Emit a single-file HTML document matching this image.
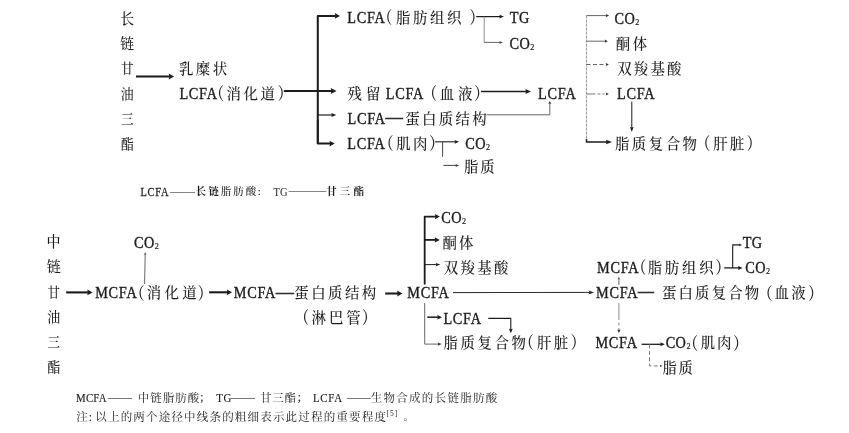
<!DOCTYPE html>
<html lang="zh-CN">
<head>
<meta charset="utf-8">
<title>LCFA / MCFA</title>
<style>
html,body{margin:0;padding:0;background:#fff;}
body{width:849px;height:433px;overflow:hidden;}
svg{display:block;will-change:transform;}
text{font-family:"Liberation Serif","Noto Serif CJK SC",serif;fill:#1c1c1c;white-space:pre;}
</style>
</head>
<body>
<svg width="849" height="433" viewBox="0 0 849 433">
<defs><filter id="soft" x="0" y="0" width="849" height="433" filterUnits="userSpaceOnUse"><feGaussianBlur stdDeviation="0.3"/></filter></defs>
<rect x="0" y="0" width="849" height="433" fill="#ffffff"/>
<g filter="url(#soft)">
<g id="lines" fill="none" stroke="#1c1c1c" stroke-linecap="butt" stroke-linejoin="round">
<path d="M136.0 76.5 L169.8 76.5" stroke-width="2.1"/>
<path d="M174.1 76.5 L168.7 79.4 L169.3 76.5 L168.7 73.6 Z" fill="#1c1c1c" stroke="none"/>
<path d="M283.8 91.0 L331.9 91.0" stroke-width="2.1"/>
<path d="M336.5 91.0 L330.7 94.1 L331.4 91.0 L330.7 87.9 Z" fill="#1c1c1c" stroke="none"/>
<path d="M317.8 143.6 L317.8 15.9 L335.8 15.9" stroke-width="2"/>
<path d="M340.0 15.9 L334.8 18.7 L335.4 15.9 L334.8 13.1 Z" fill="#1c1c1c" stroke="none"/>
<path d="M317.8 115.0 L332.3 115.0" stroke-width="1.2"/>
<path d="M336.3 115.0 L331.3 117.1 L331.9 115.0 L331.3 112.9 Z" fill="#1c1c1c" stroke="none"/>
<path d="M317.8 120.0 L317.8 143.6 L330.5 143.6" stroke-width="2"/>
<path d="M334.7 143.6 L329.5 146.4 L330.1 143.6 L329.5 140.8 Z" fill="#1c1c1c" stroke="none"/>
<path d="M476.2 16.6 L500.3 16.6" stroke-width="1.2"/>
<path d="M503.9 16.6 L499.4 18.5 L499.9 16.6 L499.4 14.7 Z" fill="#1c1c1c" stroke="none"/>
<path d="M484.2 16.6 L484.2 42.4" stroke-width="0.9" stroke="#808080"/>
<path d="M484.2 42.4 L500.1 42.4" stroke-width="0.9" stroke="#555"/>
<path d="M502.9 42.4 L499.4 43.9 L499.8 42.4 L499.4 40.9 Z" fill="#555" stroke="none"/>
<path d="M481.0 91.5 L526.5 91.5" stroke-width="1.5"/>
<path d="M531.0 91.5 L525.4 94.0 L526.1 91.5 L525.4 89.0 Z" fill="#1c1c1c" stroke="none"/>
<path d="M486.5 114.8 L549.8 114.8 L549.8 103.3" stroke-width="1" stroke="#666666"/>
<path d="M549.8 100.9 L551.3 103.9 L549.8 103.5 L548.3 103.9 Z" fill="#333" stroke="none"/>
<path d="M586.5 15.5 L586.5 141.0" stroke-width="1" stroke="#999" stroke-dasharray="3 1"/>
<path d="M586.5 15.6 L606.5 15.6" stroke-width="1" stroke="#666666"/>
<path d="M609.1 15.6 L605.9 17.2 L606.3 15.6 L605.9 14.0 Z" fill="#333" stroke="none"/>
<path d="M586.5 41.2 L605.3 41.2" stroke-width="1" stroke="#666666"/>
<path d="M607.9 41.2 L604.7 42.8 L605.1 41.2 L604.7 39.6 Z" fill="#333" stroke="none"/>
<path d="M586.5 64.5 L606.3 64.5" stroke-width="1" stroke="#666666" stroke-dasharray="4 2.5"/>
<path d="M608.9 64.5 L605.7 66.1 L606.1 64.5 L605.7 62.9 Z" fill="#333" stroke="none"/>
<path d="M586.5 94.0 L606.3 94.0" stroke-width="1" stroke="#777" stroke-dasharray="9 2 3 2 2 30"/>
<path d="M608.9 94.0 L605.7 95.6 L606.1 94.0 L605.7 92.4 Z" fill="#333" stroke="none"/>
<path d="M586.5 139.0 L586.5 142.0 L607.2 142.0" stroke-width="1.5"/>
<path d="M612.0 142.0 L606.0 144.2 L606.7 142.0 L606.0 139.8 Z" fill="#1c1c1c" stroke="none"/>
<path d="M631.8 101.6 L631.8 127.9" stroke-width="1"/>
<path d="M631.8 131.9 L630.0 126.9 L631.8 127.5 L633.6 126.9 Z" fill="#1c1c1c" stroke="none"/>
<path d="M435.0 141.8 L455.5 141.8" stroke-width="1.1"/>
<path d="M459.1 141.8 L454.6 143.7 L455.1 141.8 L454.6 139.9 Z" fill="#1c1c1c" stroke="none"/>
<path d="M442.6 141.8 L442.6 156.8" stroke-width="1" stroke="#444"/>
<path d="M443.4 165.4 L456.3 165.4" stroke-width="1" stroke="#444"/>
<path d="M459.1 165.4 L455.6 166.9 L456.0 165.4 L455.6 163.9 Z" fill="#444" stroke="none"/>
<path d="M66.1 292.4 L88.4 292.4" stroke-width="2.1"/>
<path d="M92.7 292.4 L87.3 295.3 L87.9 292.4 L87.3 289.5 Z" fill="#1c1c1c" stroke="none"/>
<path d="M209.1 292.3 L227.8 292.3" stroke-width="2.1"/>
<path d="M232.1 292.3 L226.7 295.2 L227.3 292.3 L226.7 289.4 Z" fill="#1c1c1c" stroke="none"/>
<path d="M385.2 293.5 L398.2 293.5" stroke-width="2.1"/>
<path d="M402.5 293.5 L397.1 296.4 L397.7 293.5 L397.1 290.6 Z" fill="#1c1c1c" stroke="none"/>
<path d="M144.6 284.0 L145.2 254.5" stroke-width="1" stroke="#666666"/>
<path d="M145.2 252.1 L146.6 255.1 L145.2 254.7 L143.8 255.1 Z" fill="#666666" stroke="none"/>
<path d="M424.7 284.6 L424.7 216.6 L435.9 216.6" stroke-width="1.8"/>
<path d="M439.9 216.6 L434.9 219.2 L435.5 216.6 L434.9 214.0 Z" fill="#1c1c1c" stroke="none"/>
<path d="M424.7 239.9 L435.7 239.9" stroke-width="1.8"/>
<path d="M439.7 239.9 L434.7 242.5 L435.3 239.9 L434.7 237.3 Z" fill="#1c1c1c" stroke="none"/>
<path d="M424.7 264.6 L436.7 264.6" stroke-width="1"/>
<path d="M440.3 264.6 L435.8 266.3 L436.3 264.6 L435.8 262.9 Z" fill="#1c1c1c" stroke="none"/>
<path d="M453.0 292.6 L589.7 292.4" stroke-width="1" stroke="#2a2a2a"/>
<path d="M594.1 292.4 L588.6 294.4 L589.3 292.4 L588.6 290.4 Z" fill="#2a2a2a" stroke="none"/>
<path d="M424.7 303.0 L424.7 344.1 L438.5 344.1" stroke-width="1" stroke="#666666"/>
<path d="M441.7 344.1 L437.7 345.7 L438.2 344.1 L437.7 342.5 Z" fill="#333" stroke="none"/>
<path d="M427.3 317.2 L438.3 317.2" stroke-width="1.5"/>
<path d="M442.1 317.2 L437.3 319.4 L437.9 317.2 L437.3 315.0 Z" fill="#1c1c1c" stroke="none"/>
<path d="M488.3 318.4 L510.8 318.4 L510.8 329.6" stroke-width="1.1"/>
<path d="M510.8 333.3 L508.9 328.7 L510.8 329.3 L512.7 328.7 Z" fill="#1c1c1c" stroke="none"/>
<path d="M618.9 284.8 L618.9 278.9" stroke-width="1" stroke="#666666"/>
<path d="M618.9 276.5 L620.3 279.5 L618.9 279.1 L617.5 279.5 Z" fill="#666666" stroke="none"/>
<path d="M618.9 303.0 L618.9 330.2" stroke-width="1" stroke="#8a8a8a" stroke-dasharray="17 2.5 3 2.5 2 30"/>
<path d="M618.9 332.9 L617.2 329.5 L618.9 329.9 L620.6 329.5 Z" fill="#333" stroke="none"/>
<path d="M724.2 267.9 L739.0 267.9" stroke-width="1.3"/>
<path d="M742.6 267.9 L738.1 269.9 L738.6 267.9 L738.1 265.9 Z" fill="#1c1c1c" stroke="none"/>
<path d="M732.7 267.9 L732.7 244.9 L739.6 244.9" stroke-width="1.1"/>
<path d="M742.0 244.9 L739.0 246.3 L739.4 244.9 L739.0 243.5 Z" fill="#1c1c1c" stroke="none"/>
<path d="M641.6 344.3 L661.2 344.3" stroke-width="1.3"/>
<path d="M664.8 344.3 L660.3 346.3 L660.8 344.3 L660.3 342.3 Z" fill="#1c1c1c" stroke="none"/>
<path d="M649.5 344.3 L649.5 365.9 L658.5 365.9" stroke-width="1" stroke="#777" stroke-dasharray="4 2.5"/>
<path d="M660.0 365.9 L661.6 365.9" stroke-width="1.6" stroke="#444"/>
</g>
<g id="labels">
<text transform="translate(120.26 23.98) scale(0.95 1)" font-size="14.6" font-weight="500">长</text>
<text transform="translate(120.36 48.70) scale(0.95 1)" font-size="14.6" font-weight="500">链</text>
<text transform="translate(121.03 72.55) scale(0.95 1)" font-size="13.2" font-weight="500">甘</text>
<text transform="translate(120.84 98.80) scale(0.95 1)" font-size="13.6" font-weight="500">油</text>
<text transform="translate(120.93 123.66) scale(0.95 1)" font-size="13.2" font-weight="500">三</text>
<text transform="translate(120.74 148.98) scale(0.95 1)" font-size="13.8" font-weight="500">酯</text>
<text transform="translate(178.98 74.00) scale(0.95 1)" font-size="15.2" letter-spacing="2.59" font-weight="500">乳糜状</text>
<text transform="translate(179.38 98.67) scale(0.88 1)" font-size="16.2" letter-spacing="0.85" stroke="#1c1c1c" stroke-width="0.38">LCFA</text>
<text transform="translate(209.85 100.21) scale(0.84 1)" font-size="17" font-weight="600">（</text>
<text transform="translate(226.38 99.00) scale(0.95 1)" font-size="15.2" letter-spacing="2.77" font-weight="500">消化道</text>
<text transform="translate(277.73 100.21) scale(0.84 1)" font-size="17" font-weight="600">）</text>
<text transform="translate(347.28 23.37) scale(0.88 1)" font-size="16.2" letter-spacing="0.85" stroke="#1c1c1c" stroke-width="0.38">LCFA</text>
<text transform="translate(378.05 24.01) scale(0.84 1)" font-size="17" font-weight="600">（</text>
<text transform="translate(395.88 22.80) scale(0.95 1)" font-size="15.2" letter-spacing="2.75" font-weight="500">脂肪组织</text>
<text transform="translate(469.53 24.01) scale(0.84 1)" font-size="17" font-weight="600">）</text>
<text transform="translate(509.78 23.37) scale(0.88 1)" font-size="16.2" letter-spacing="0.50" stroke="#1c1c1c" stroke-width="0.38">TG</text>
<text transform="translate(509.55 48.57) scale(0.88 1)" font-size="16.2" letter-spacing="0.50" stroke="#1c1c1c" stroke-width="0.38">CO<tspan font-size="9.2" dx="0.1" dy="1.05" stroke-width="0.2">2</tspan></text>
<text transform="translate(347.53 99.10) scale(0.95 1)" font-size="15.2" letter-spacing="4.38" font-weight="500">残留</text>
<text transform="translate(385.68 98.97) scale(0.88 1)" font-size="16.2" letter-spacing="0.85" stroke="#1c1c1c" stroke-width="0.38">LCFA</text>
<text transform="translate(422.65 100.31) scale(0.84 1)" font-size="17" font-weight="600">（</text>
<text transform="translate(439.68 99.10) scale(0.95 1)" font-size="15.2" letter-spacing="4.17" font-weight="500">血液</text>
<text transform="translate(474.33 100.31) scale(0.84 1)" font-size="17" font-weight="600">）</text>
<text transform="translate(538.08 99.07) scale(0.88 1)" font-size="16.2" letter-spacing="0.85" stroke="#1c1c1c" stroke-width="0.38">LCFA</text>
<text transform="translate(347.48 123.77) scale(0.88 1)" font-size="16.2" letter-spacing="0.85" stroke="#1c1c1c" stroke-width="0.38">LCFA</text>
<text transform="translate(385.57 122.10) scale(1.071 1)" font-size="16.2" stroke="#1c1c1c" stroke-width="0.5">—</text>
<text transform="translate(405.23 123.60) scale(0.95 1)" font-size="15.2" letter-spacing="2.47" font-weight="500">蛋白质结构</text>
<text transform="translate(347.18 149.37) scale(0.88 1)" font-size="16.2" letter-spacing="0.85" stroke="#1c1c1c" stroke-width="0.38">LCFA</text>
<text transform="translate(379.25 150.11) scale(0.84 1)" font-size="17" font-weight="600">（</text>
<text transform="translate(396.18 148.80) scale(0.95 1)" font-size="15.2" letter-spacing="2.43" font-weight="500">肌肉</text>
<text transform="translate(429.13 150.01) scale(0.84 1)" font-size="17" font-weight="600">）</text>
<text transform="translate(465.35 149.17) scale(0.88 1)" font-size="16.2" letter-spacing="0.50" stroke="#1c1c1c" stroke-width="0.38">CO<tspan font-size="9.2" dx="0.1" dy="1.05" stroke-width="0.2">2</tspan></text>
<text transform="translate(463.88 172.00) scale(0.95 1)" font-size="15.2" letter-spacing="1.96" font-weight="500">脂质</text>
<text transform="translate(614.45 23.67) scale(0.88 1)" font-size="16.2" letter-spacing="0.50" stroke="#1c1c1c" stroke-width="0.38">CO<tspan font-size="9.2" dx="0.1" dy="1.05" stroke-width="0.2">2</tspan></text>
<text transform="translate(615.78 48.60) scale(0.95 1)" font-size="15.2" letter-spacing="2.80" font-weight="500">酮体</text>
<text transform="translate(617.18 73.70) scale(0.95 1)" font-size="15.2" letter-spacing="2.29" font-weight="500">双羧基酸</text>
<text transform="translate(616.98 99.07) scale(0.88 1)" font-size="16.2" letter-spacing="0.85" stroke="#1c1c1c" stroke-width="0.38">LCFA</text>
<text transform="translate(614.88 148.70) scale(0.95 1)" font-size="15.2" letter-spacing="2.63" font-weight="500">脂质复合物</text>
<text transform="translate(696.05 149.91) scale(0.84 1)" font-size="17" font-weight="600">（</text>
<text transform="translate(713.18 148.70) scale(0.95 1)" font-size="15.2" letter-spacing="2.38" font-weight="500">肝脏</text>
<text transform="translate(746.83 149.91) scale(0.84 1)" font-size="17" font-weight="600">）</text>
<text transform="translate(140.51 195.80) scale(0.84 1)" font-size="12.5" letter-spacing="0.79" stroke="#1c1c1c" stroke-width="0.25">LCFA</text>
<text transform="translate(169.91 194.57) scale(1.144 1)" font-size="11">——</text>
<text x="195.60" y="195.10" font-size="10.5" letter-spacing="2.30" font-weight="700">长链</text>
<text x="220.75" y="195.10" font-size="10.5" letter-spacing="2.05" font-weight="500" fill="#333">脂肪酸</text>
<text x="257.85" y="195.12" font-size="11" stroke="#1c1c1c" stroke-width="0.15">:</text>
<text transform="translate(273.43 195.70) scale(0.84 1)" font-size="12.5" letter-spacing="0.34" fill="#666">TG</text>
<text transform="translate(288.71 193.77) scale(1.136 1)" font-size="11">———</text>
<text x="326.25" y="195.10" font-size="10.5" letter-spacing="3.10" font-weight="700">甘三酯</text>
<text transform="translate(46.55 247.25) scale(0.95 1)" font-size="14.8" font-weight="500">中</text>
<text transform="translate(46.77 272.38) scale(0.95 1)" font-size="14.8" font-weight="500">链</text>
<text transform="translate(47.53 296.55) scale(0.95 1)" font-size="13.2" font-weight="500">甘</text>
<text transform="translate(47.34 322.00) scale(0.95 1)" font-size="13.6" font-weight="500">油</text>
<text transform="translate(47.43 347.46) scale(0.95 1)" font-size="13.2" font-weight="500">三</text>
<text transform="translate(47.24 371.98) scale(0.95 1)" font-size="13.8" font-weight="500">酯</text>
<text transform="translate(133.95 247.67) scale(0.88 1)" font-size="16.2" letter-spacing="0.50" stroke="#1c1c1c" stroke-width="0.38">CO<tspan font-size="9.2" dx="0.1" dy="1.05" stroke-width="0.2">2</tspan></text>
<text transform="translate(95.18 297.67) scale(0.88 1)" font-size="16.2" letter-spacing="0.85" stroke="#1c1c1c" stroke-width="0.38">MCFA</text>
<text transform="translate(130.35 299.51) scale(0.84 1)" font-size="17" font-weight="600">（</text>
<text transform="translate(146.78 298.30) scale(0.95 1)" font-size="15.2" letter-spacing="3.54" font-weight="500">消化道</text>
<text transform="translate(197.73 299.51) scale(0.84 1)" font-size="17" font-weight="600">）</text>
<text transform="translate(233.78 297.87) scale(0.88 1)" font-size="16.2" letter-spacing="0.85" stroke="#1c1c1c" stroke-width="0.38">MCFA</text>
<text transform="translate(275.88 296.80) scale(1.101 1)" font-size="16.2" stroke="#1c1c1c" stroke-width="0.5">—</text>
<text transform="translate(294.28 298.30) scale(0.95 1)" font-size="15.2" letter-spacing="2.59" font-weight="500">蛋白质结构</text>
<text transform="translate(294.85 324.31) scale(0.84 1)" font-size="17" font-weight="600">（</text>
<text transform="translate(311.48 323.20) scale(0.95 1)" font-size="15.2" letter-spacing="3.17" font-weight="500">淋巴管</text>
<text transform="translate(361.93 324.31) scale(0.84 1)" font-size="17" font-weight="600">）</text>
<text transform="translate(407.28 298.47) scale(0.88 1)" font-size="16.2" letter-spacing="0.85" stroke="#1c1c1c" stroke-width="0.38">MCFA</text>
<text transform="translate(441.35 222.57) scale(0.88 1)" font-size="16.2" letter-spacing="0.50" stroke="#1c1c1c" stroke-width="0.38">CO<tspan font-size="9.2" dx="0.1" dy="1.05" stroke-width="0.2">2</tspan></text>
<text transform="translate(442.48 247.60) scale(0.95 1)" font-size="15.2" letter-spacing="2.33" font-weight="500">酮体</text>
<text transform="translate(443.78 273.30) scale(0.95 1)" font-size="15.2" letter-spacing="2.45" font-weight="500">双羧基酸</text>
<text transform="translate(443.38 323.67) scale(0.88 1)" font-size="16.2" letter-spacing="0.85" stroke="#1c1c1c" stroke-width="0.38">LCFA</text>
<text transform="translate(443.43 348.10) scale(0.95 1)" font-size="15.2" letter-spacing="2.72" font-weight="500">脂质复合物</text>
<text transform="translate(519.55 349.31) scale(0.84 1)" font-size="17" font-weight="600">（</text>
<text transform="translate(536.88 348.10) scale(0.95 1)" font-size="15.2" letter-spacing="2.69" font-weight="500">肝脏</text>
<text transform="translate(570.83 349.31) scale(0.84 1)" font-size="17" font-weight="600">）</text>
<text transform="translate(596.98 272.67) scale(0.88 1)" font-size="16.2" letter-spacing="0.85" stroke="#1c1c1c" stroke-width="0.38">MCFA</text>
<text transform="translate(631.95 274.21) scale(0.84 1)" font-size="17" font-weight="600">（</text>
<text transform="translate(647.68 273.00) scale(0.95 1)" font-size="15.2" letter-spacing="2.87" font-weight="500">脂肪组织</text>
<text transform="translate(715.53 274.21) scale(0.84 1)" font-size="17" font-weight="600">）</text>
<text transform="translate(742.68 247.87) scale(0.88 1)" font-size="16.2" letter-spacing="0.50" stroke="#1c1c1c" stroke-width="0.38">TG</text>
<text transform="translate(745.35 273.17) scale(0.88 1)" font-size="16.2" letter-spacing="0.50" stroke="#1c1c1c" stroke-width="0.38">CO<tspan font-size="9.2" dx="0.1" dy="1.05" stroke-width="0.2">2</tspan></text>
<text transform="translate(596.08 297.97) scale(0.88 1)" font-size="16.2" letter-spacing="0.85" stroke="#1c1c1c" stroke-width="0.38">MCFA</text>
<text transform="translate(638.05 296.10) scale(0.9817 1)" font-size="16.2" stroke="#1c1c1c" stroke-width="0.5">—</text>
<text transform="translate(661.88 298.30) scale(0.95 1)" font-size="15.2" letter-spacing="2.28" font-weight="500">蛋白质复合物</text>
<text transform="translate(758.15 299.51) scale(0.84 1)" font-size="17" font-weight="600">（</text>
<text transform="translate(774.53 298.30) scale(0.95 1)" font-size="15.2" letter-spacing="2.54" font-weight="500">血液</text>
<text transform="translate(808.13 299.51) scale(0.84 1)" font-size="17" font-weight="600">）</text>
<text transform="translate(595.38 348.37) scale(0.88 1)" font-size="16.2" letter-spacing="0.85" stroke="#1c1c1c" stroke-width="0.38">MCFA</text>
<text transform="translate(665.65 348.07) scale(0.88 1)" font-size="16.2" letter-spacing="0.50" stroke="#1c1c1c" stroke-width="0.38">CO<tspan font-size="9.2" dx="0.1" dy="1.05" stroke-width="0.2">2</tspan></text>
<text transform="translate(683.85 349.51) scale(0.84 1)" font-size="17" font-weight="600">（</text>
<text transform="translate(700.73 348.30) scale(0.95 1)" font-size="15.2" letter-spacing="2.06" font-weight="500">肌肉</text>
<text transform="translate(733.33 349.51) scale(0.84 1)" font-size="17" font-weight="600">）</text>
<text transform="translate(662.48 373.20) scale(0.95 1)" font-size="15.2" letter-spacing="1.80" font-weight="500">脂质</text>
<text transform="translate(76.00 402.30) scale(0.87 1)" font-size="12.5" letter-spacing="0.25" stroke="#1c1c1c" stroke-width="0.15">MCFA</text>
<text transform="translate(108.00 400.80) scale(0.9959 1)" font-size="12">——</text>
<text x="137.85" y="401.95" font-size="11.5" letter-spacing="1.00">中链脂肪酸</text>
<text x="200.35" y="401.32" font-size="11.5" stroke="#1c1c1c" stroke-width="0.15">;</text>
<text transform="translate(216.23 402.30) scale(0.87 1)" font-size="12.5" letter-spacing="0.70" stroke="#1c1c1c" stroke-width="0.15">TG</text>
<text transform="translate(231.00 400.80) scale(0.9959 1)" font-size="12">——</text>
<text x="259.95" y="401.95" font-size="11.5" letter-spacing="0.75">甘三酯</text>
<text x="297.75" y="401.32" font-size="11.5" stroke="#1c1c1c" stroke-width="0.15">;</text>
<text transform="translate(313.00 402.30) scale(0.87 1)" font-size="12.5" letter-spacing="0.80" stroke="#1c1c1c" stroke-width="0.15">LCFA</text>
<text transform="translate(347.10 400.80) scale(0.9793 1)" font-size="12">——</text>
<text x="370.75" y="401.95" font-size="11.5" letter-spacing="1.28">生物合成的长链脂肪酸</text>
<text x="76.25" y="420.55" font-size="11.5">注</text>
<text x="88.70" y="420.65" font-size="11.5" stroke="#1c1c1c" stroke-width="0.15">:</text>
<text x="95.25" y="420.55" font-size="11.5" letter-spacing="1.19">以上的两个途径中线条的粗细表示此过程的重要程度</text>
<text x="386.45" y="416.23" font-size="7.5" letter-spacing="1.08" fill="#444">[5]</text>
<text x="403.60" y="419.97" font-size="10">。</text>
</g>
</g>
</svg>
</body>
</html>
